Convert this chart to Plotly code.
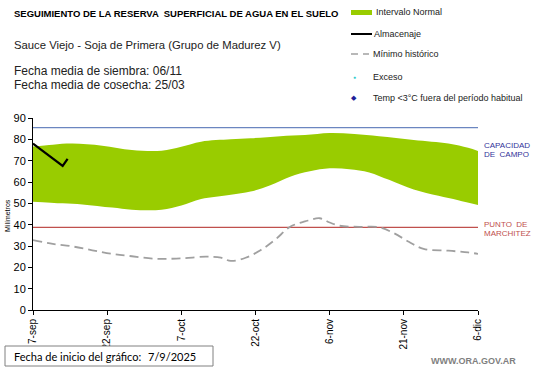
import plotly.graph_objects as go
import datetime as dt

START = dt.date(2025, 9, 7)

def d(n):
    return (START + dt.timedelta(days=n)).isoformat()

# Data (day offsets from 7-sep-2025)
band_upper_days = [0, 4, 8, 14, 20, 26, 30, 34, 40, 44, 50, 55, 60, 65, 70, 77, 84, 88, 90]
band_upper_vals = [76.6, 77.5, 78, 77, 75, 74.7, 76.5, 78.9, 80, 80.5, 81.5, 82, 83, 82.5, 81.5, 79.7, 78, 76, 74.5]
band_lower_days = [0, 6, 10, 16, 20, 26, 30, 34, 40, 44, 48, 52, 56, 60, 64, 68, 72, 77, 82, 86, 90]
band_lower_vals = [50.8, 50, 49.5, 48, 47, 47, 49, 52, 54, 55.5, 58.5, 62.5, 65, 66.4, 66, 64.5, 61, 56.5, 53.5, 51.5, 49.2]
alm_days = [0, 1, 2, 3, 4, 5, 6, 7]
alm_vals = [78, 76.2, 74.4, 72.5, 70.7, 69, 67.5, 70.8]
min_days = [0, 4, 8, 12, 16, 20, 25, 30, 35, 38, 40, 43, 46, 49, 52, 55, 58, 60, 62, 66, 70, 73, 76, 79, 84, 88, 90]
min_vals = [32.8, 31, 29.8, 28, 26.3, 25.2, 24, 24.2, 25, 24.5, 23, 24.5, 28, 33, 39, 41.5, 43, 41, 39.5, 39, 38.8, 36, 32, 28.6, 27.8, 27, 26.3]
capacidad_campo = 85.5
punto_marchitez = 38.7
tick_days = [0, 15, 30, 45, 60, 75, 90]
tick_labels = ["7-sep", "22-sep", "7-oct", "22-oct", "6-nov", "21-nov", "6-dic"]
y_ticks = [0, 10, 20, 30, 40, 50, 60, 70, 80, 90]

FONT = "Liberation Sans, Arial, sans-serif"
GREEN = "#99cc00"

fig = go.Figure()

# Normal interval band
fig.add_trace(go.Scatter(x=[d(n) for n in band_lower_days], y=band_lower_vals, mode="lines",
                         line=dict(width=0, color=GREEN, shape="spline"), showlegend=False, hoverinfo="skip"))
fig.add_trace(go.Scatter(x=[d(n) for n in band_upper_days], y=band_upper_vals, mode="lines",
                         line=dict(width=0, color=GREEN, shape="spline"), fill="tonexty", fillcolor=GREEN,
                         showlegend=False))
# reference lines
fig.add_trace(go.Scatter(x=[d(0), d(90)], y=[capacidad_campo] * 2, mode="lines",
                         line=dict(color="#6b86c0", width=1.2), showlegend=False))
fig.add_trace(go.Scatter(x=[d(0), d(90)], y=[punto_marchitez] * 2, mode="lines",
                         line=dict(color="#c0504d", width=1.2), showlegend=False))
# minimum historic
fig.add_trace(go.Scatter(x=[d(n) for n in min_days], y=min_vals, mode="lines",
                         line=dict(color="#a0a0a0", width=1.8, dash="9px,5px", shape="spline"), showlegend=False))
# storage
fig.add_trace(go.Scatter(x=[d(n) for n in alm_days], y=alm_vals, mode="lines",
                         line=dict(color="black", width=2.2), showlegend=False))

shapes = []
annotations = []

def ann(x, y, text, size, color="black", bold=False, xanchor="left", yanchor="middle", family=FONT, **kw):
    t = f"<b>{text}</b>" if bold else text
    annotations.append(dict(x=x, y=y, xref="paper", yref="paper", text=t, showarrow=False,
                            xanchor=xanchor, yanchor=yanchor, align="left",
                            font=dict(size=size, color=color, family=family), **kw))

W, H = 541, 368
L, R, T, B = 33, 63, 118, 58
pw, ph = W - L - R, H - T - B

def px(x):
    return (x - L) / pw

def py(y):
    return (H - B - y) / ph

ann(px(12), py(13), "SEGUIMIENTO DE LA RESERVA  SUPERFICIAL DE AGUA EN EL SUELO", 9.5, bold=True)
ann(px(12), py(45), "Sauce Viejo - Soja de Primera (Grupo de Madurez V)", 11.3, color="#222222")
ann(px(12), py(71), "Fecha media de siembra: 06/11", 12, color="#222222")
ann(px(12), py(85), "Fecha media de cosecha: 25/03", 12, color="#222222")

# legend
shapes.append(dict(type="rect", xref="paper", yref="paper", x0=px(351), x1=px(372), y0=py(10), y1=py(15),
                   fillcolor=GREEN, line=dict(width=0)))
ann(px(374), py(12), "Intervalo Normal", 9, color="#222222")
shapes.append(dict(type="line", xref="paper", yref="paper", x0=px(351), x1=px(372), y0=py(34), y1=py(34),
                   line=dict(color="black", width=2)))
ann(px(372), py(34), "Almacenaje", 9, color="#222222")
shapes.append(dict(type="line", xref="paper", yref="paper", x0=px(351), x1=px(358), y0=py(54), y1=py(54),
                   line=dict(color="#a0a0a0", width=1.5)))
shapes.append(dict(type="line", xref="paper", yref="paper", x0=px(363), x1=px(369), y0=py(54), y1=py(54),
                   line=dict(color="#a0a0a0", width=1.5)))
ann(px(371), py(54), "Mínimo histórico", 9, color="#222222")
ann(px(354), py(77), "●", 5, color="#33cccc", xanchor="center")
ann(px(371), py(77), "Exceso", 9, color="#222222")
ann(px(354), py(98), "◆", 7, color="#1f1f99", xanchor="center")
ann(px(371), py(98), "Temp <3°C fuera del período habitual", 9, color="#222222")

# right labels
ann(px(482), py(145), "CAPACIDAD", 8, color="#333399")
ann(px(482), py(154), "DE  CAMPO", 8, color="#333399")
ann(px(482), py(224), "PUNTO  DE", 8, color="#c0504d")
ann(px(482), py(233), "MARCHITEZ", 8, color="#c0504d")

# y axis title
ann(px(7), py(216), "Milímetros", 7, color="black", xanchor="center", textangle=-90)

# bottom box
shapes.append(dict(type="rect", xref="paper", yref="paper", x0=px(5), x1=px(213), y0=py(346), y1=py(366),
                   line=dict(color="#808080", width=1), fillcolor="white"))
ann(px(12), py(356), "Fecha de inicio del gráfico:", 11, color="black", family="Lato, sans-serif")
ann(px(146), py(356), "7/9/2025", 11, color="black", family="Lato, sans-serif")
ann(px(518), py(361), "WWW.ORA.GOV.AR", 9, color="#7f7f7f", bold=True, xanchor="right")

fig.update_layout(
    width=W, height=H,
    margin=dict(l=L, r=R, t=T, b=B, pad=0),
    paper_bgcolor="white", plot_bgcolor="white",
    showlegend=False,
    shapes=shapes, annotations=annotations,
    xaxis=dict(type="date", range=[d(0), d(90)], tickvals=[d(n) for n in tick_days], ticktext=tick_labels,
               tickangle=-90, ticks="outside", ticklen=4, tickcolor="black", showgrid=False, zeroline=False,
               showline=True, linecolor="black", linewidth=1,
               tickfont=dict(size=10, family=FONT, color="black")),
    yaxis=dict(range=[0, 90], tickvals=y_ticks, ticks="outside", ticklen=4, tickcolor="black",
               showgrid=False, zeroline=False, showline=True, linecolor="black", linewidth=1,
               tickfont=dict(size=11, family=FONT, color="black")),
)

fig.write_html("out.html", config={"displayModeBar": False},
               post_script="document.body.style.margin='0';document.body.style.overflow='hidden';")
